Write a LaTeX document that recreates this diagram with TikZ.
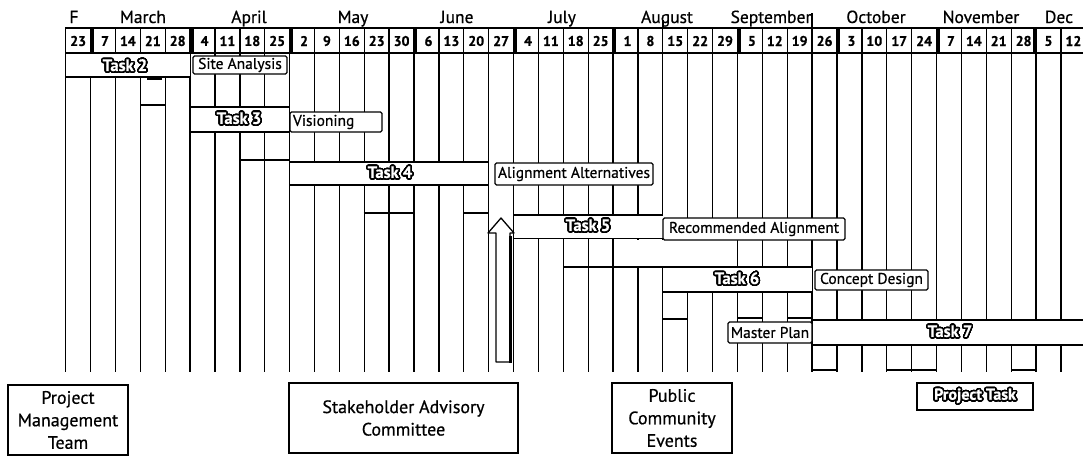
\documentclass[tikz,border=0pt]{standalone}
\usepackage{fontspec}
\setmainfont{PT Sans}[FakeBold=0.6]
\usepackage{contour}
\contourlength{1.6pt}
\contournumber{32}
\begin{document}
\begin{tikzpicture}[x=1pt,y=-1pt,line cap=butt,
  colline/.style={line width=1.3pt},
  barline/.style={line width=1.5pt},
  month/.style={font=\fontsize{17.5}{17.5}\selectfont,inner sep=0,anchor=base},
  day/.style={font=\bfseries\fontsize{14}{14}\selectfont,inner sep=0},
  tasklab/.style={font=\bfseries\fontsize{16.5}{16.5}\selectfont,text=white,inner sep=0},
  labbox/.style={draw,line width=1.3pt,rounded corners=1.5pt,fill=white,font=\fontsize{15.5}{15.5}\selectfont,inner sep=0},
  teambox/.style={draw,line width=1.4pt,fill=white,align=center,font=\fontsize{18}{22.5}\selectfont,inner sep=0},
  blank/.style={fill=white}
]
\useasboundingbox (0,0) rectangle (1083,458);
\fill[white] (0,0) rectangle (1083,458);

% column lines
\foreach \k in {0,...,40}
  \draw[colline] ({65.7+24.88*\k},28) -- ({65.7+24.88*\k},372);
\draw[colline] (663,20) -- (663,28);
\draw[colline] (812.1,13) -- (812.1,28);
\draw[colline] (1034,28) -- (1034,53);

% white areas covering lines
\fill[blank] (67,54) rectangle (189.5,76.5);
\fill[blank] (190.7,107) rectangle (288.5,132);
\fill[blank] (290,162) rectangle (488,185);
\fill[blank] (514,215) rectangle (662.5,238);
\fill[blank] (614,240) rectangle (712.5,266.5);
\fill[blank] (664,267) rectangle (811.5,292);
\fill[blank] (813,320) rectangle (1083,345);

% bar lines
\draw[barline] (66,77) -- (190,77);
\draw[barline] (190,107) -- (289,107);
\draw[barline] (190,132) -- (289,132);
\draw[barline] (239,160) -- (289,160);
\draw[barline] (289,162) -- (489,162);
\draw[barline] (289,185) -- (489,185);
\draw[barline] (513,215) -- (663,215);
\draw[barline] (513,238.5) -- (713,238.5);
\draw[barline] (563,267) -- (813,267);
\draw[barline] (663,292) -- (813,292);
\draw[barline] (812,320) -- (1083,320);
\draw[barline] (812,345) -- (1083,345);

% extra segments
\draw[line width=2.2pt] (147,79) -- (162,79);
\draw[barline] (140.3,105) -- (165.2,105);
\draw[barline] (363.5,213) -- (414,213);
\draw[barline] (464,213) -- (489,213);
\draw[barline] (663,319) -- (688,319);
\draw[barline] (738,318) -- (763,318);
\draw[barline] (787,318) -- (812,318);
\draw[barline] (812,370) -- (837,370);
\draw[barline] (887,370) -- (937,370);
\draw[barline] (1011,370) -- (1036,370);

% label boxes
\node[labbox,minimum width=94,minimum height=18] (site) at (240,65) {Site Analysis};
\node[labbox,minimum width=92,minimum height=20,text width=86,align=left] (vision) at (336,122) {Visioning};
\node[labbox,minimum width=158,minimum height=22] (align) at (574,174) {Alignment Alternatives};
\node[labbox,minimum width=182,minimum height=22] (recom) at (754,229) {Recommended Alignment};
\node[labbox,minimum width=113,minimum height=20] (concept) at (871.5,280) {Concept Design};
\node[labbox,minimum width=84,minimum height=21] (master) at (770,332.5) {Master Plan};

% task labels
\node[tasklab] (t2) at (125,66) {\contour{black}{Task 2}};
\node[tasklab] (t3) at (239,119) {\contour{black}{Task 3}};
\node[tasklab] (t4) at (390,173) {\contour{black}{Task 4}};
\node[tasklab] (t5) at (588,226) {\contour{black}{Task 5}};
\node[tasklab] (t6) at (737,279) {\contour{black}{Task 6}};
\node[tasklab] (t7) at (950,332) {\contour{black}{Task 7}};

% header
\draw[line width=2pt] (65,28) -- (1083,28);
\draw[line width=1.5pt] (65,53) -- (1083,53);
\foreach \k in {1,5,9,14,18,22,27,31,35}
  \fill ({65.7+24.88*\k-0.6},28) rectangle ({65.7+24.88*\k+3.4},53);
\foreach \lab/\s [count=\i from 0] in {23/0,7/2,14/0,21/0,28/0,4/2,11/0,18/0,25/0,2/2,9/0,16/0,23/0,30/0,6/2,13/0,20/0,27/0,4/2,11/0,18/0,25/0,1/2,8/0,15/0,22/0,29/0,5/2,12/0,19/0,26/0,3/2,10/0,17/0,24/0,7/2,14/0,21/0,28/0,5/0,12/0}
  \node[day] (d\i) at ({65.7+24.88*\i+12.44+\s},41) {\lab};

\node[month] (mF) at (74,23) {F};
\node[month] (mMar) at (143,23) {March};
\node[month] (mApr) at (249,23) {April};
\node[month] (mMay) at (353,23) {May};
\node[month] (mJun) at (457,23) {June};
\node[month] (mJul) at (562,23) {July};
\node[month] (mAug) at (667,23) {August};
\node[month] (mSep) at (771,23) {September};
\node[month] (mOct) at (876,23) {October};
\node[month] (mNov) at (981,23) {November};
\node[month] (mDec) at (1059,23) {Dec};

% arrow
\fill[white] (488,233) -- (501,218) -- (514,233) -- (510,233) -- (510,362) -- (496,362) -- (496,233) -- cycle;
\draw[line width=1.3pt,line join=round] (488,233) -- (501,218) -- (514,233) -- (510,233) -- (510,362) -- (496,362) -- (496,233) -- cycle;
\draw[line width=3.5pt] (510.5,236) -- (510.5,363);

% bottom boxes
\node[teambox,minimum width=120,minimum height=70] (pmt) at (68,420) {Project\\Management\\Team};
\node[teambox,minimum width=229,minimum height=70] (sac) at (403.5,418) {Stakeholder Advisory\\Committee};
\node[teambox,minimum width=120,minimum height=70] (pce) at (672,418) {Public\\Community\\Events};
\node[draw,line width=1.4pt,fill=white,minimum width=116,minimum height=27,inner sep=0,font=\bfseries\fontsize{16}{16}\selectfont,text=white] (legend) at (975,396.5) {\contour{black}{Project Task}};
\end{tikzpicture}
\end{document}
